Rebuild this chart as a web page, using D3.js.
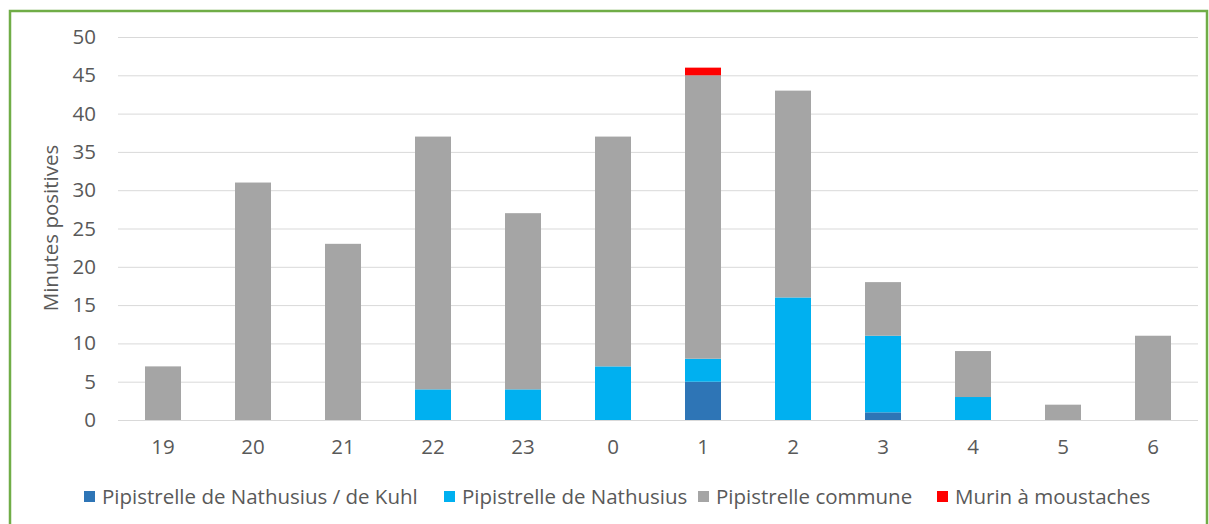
<!DOCTYPE html>
<html>
<head>
<meta charset="utf-8">
<script src="https://cdn.jsdelivr.net/npm/d3@7"></script>
<style>
  body { margin: 0; background: #fff; }
  svg { display: block; font-family: "Open Sans", sans-serif; }
</style>
</head>
<body>
<svg id="chart" width="1209" height="524"></svg>
<script>
// hours of the night
var hours = ["19", "20", "21", "22", "23", "0", "1", "2", "3", "4", "5", "6"];

// series names, bottom to top
var species = ["Pipistrelle de Nathusius / de Kuhl", "Pipistrelle de Nathusius", "Pipistrelle commune", "Murin à moustaches"];
var colors = ["#2E75B6", "#00B0F0", "#A5A5A5", "#FF0000"];

// minutes positives per hour, one array per species
var nathKuhl = [0, 0, 0, 0, 0, 0, 5, 0, 1, 0, 0, 0];
var nathusius = [0, 0, 0, 4, 4, 7, 3, 16, 10, 3, 0, 0];
var commune = [7, 31, 23, 33, 23, 30, 37, 27, 7, 6, 2, 11];
var murin = [0, 0, 0, 0, 0, 0, 1, 0, 0, 0, 0, 0];

var yTicks = [0, 5, 10, 15, 20, 25, 30, 35, 40, 45, 50];

var series = [nathKuhl, nathusius, commune, murin];
var rows = hours.map(function(h, i) {
    var r = { hour: h };
    species.forEach(function(s, j) { r[s] = series[j][i]; });
    return r;
});

var fontSize = "20.5px";
var svg = d3.select("#chart");

// green frame
svg.append("rect")
    .attr("x", 10).attr("y", 11)
    .attr("width", 1197).attr("height", 530)
    .attr("fill", "none")
    .attr("stroke", "#70AD47")
    .attr("stroke-width", 2.5);

var x = d3.scaleBand()
    .domain(hours)
    .range([118, 1198])
    .paddingInner(0.6)
    .paddingOuter(0.3);

var y = d3.scaleLinear()
    .domain([0, 50])
    .range([420, 37]);

// gridlines
svg.append("g")
    .selectAll("line")
    .data(yTicks)
    .enter()
    .append("line")
    .attr("x1", 118).attr("x2", 1198)
    .attr("y1", function(d) { return y(d) + 0.5; })
    .attr("y2", function(d) { return y(d) + 0.5; })
    .attr("stroke", "#D9D9D9")
    .attr("stroke-width", 1);

// y axis labels
var yAxis = d3.axisLeft(y).tickValues(yTicks).tickSize(0).tickPadding(22);
svg.append("g")
    .attr("transform", "translate(118,0)")
    .call(yAxis)
    .call(function(g) { g.select(".domain").remove(); })
    .selectAll("text")
    .attr("fill", "#595959")
    .style("font-size", fontSize)
    .style("font-family", "Open Sans, sans-serif");

// stacked bars
var stack = d3.stack().keys(species);
var layers = stack(rows);

svg.append("g")
    .selectAll("g")
    .data(layers)
    .enter()
    .append("g")
    .attr("fill", function(d, i) { return colors[i]; })
    .selectAll("rect")
    .data(function(d) { return d; })
    .enter()
    .append("rect")
    .attr("x", function(d) { return x(d.data.hour); })
    .attr("width", x.bandwidth())
    .attr("y", function(d) { return y(d[1]); })
    .attr("height", function(d) { return y(d[0]) - y(d[1]); });

// baseline
svg.append("line")
    .attr("x1", 118).attr("x2", 1198)
    .attr("y1", y(0) + 0.5).attr("y2", y(0) + 0.5)
    .attr("stroke", "#D9D9D9");

// x axis labels
var xAxis = d3.axisBottom(x).tickSize(0).tickPadding(19);
svg.append("g")
    .attr("transform", "translate(0," + y(0) + ")")
    .call(xAxis)
    .call(function(g) { g.select(".domain").remove(); })
    .selectAll("text")
    .attr("fill", "#595959")
    .style("font-size", fontSize)
    .style("font-family", "Open Sans, sans-serif");

// y title
svg.append("text")
    .attr("transform", "translate(58,228) rotate(-90)")
    .attr("text-anchor", "middle")
    .attr("fill", "#595959")
    .style("font-size", fontSize)
    .text("Minutes positives");

// legend
var legendX = [84, 444, 698, 937];
var legend = svg.append("g")
    .selectAll("g")
    .data(species)
    .enter()
    .append("g")
    .attr("transform", function(d, i) { return "translate(" + legendX[i] + ",497)"; });

legend.append("rect")
    .attr("x", 0).attr("y", -6)
    .attr("width", 11).attr("height", 11)
    .attr("fill", function(d, i) { return colors[i]; });

legend.append("text")
    .attr("x", 18)
    .attr("dy", "0.35em")
    .attr("fill", "#595959")
    .style("font-size", fontSize)
    .text(function(d) { return d; });
</script>
</body>
</html>
